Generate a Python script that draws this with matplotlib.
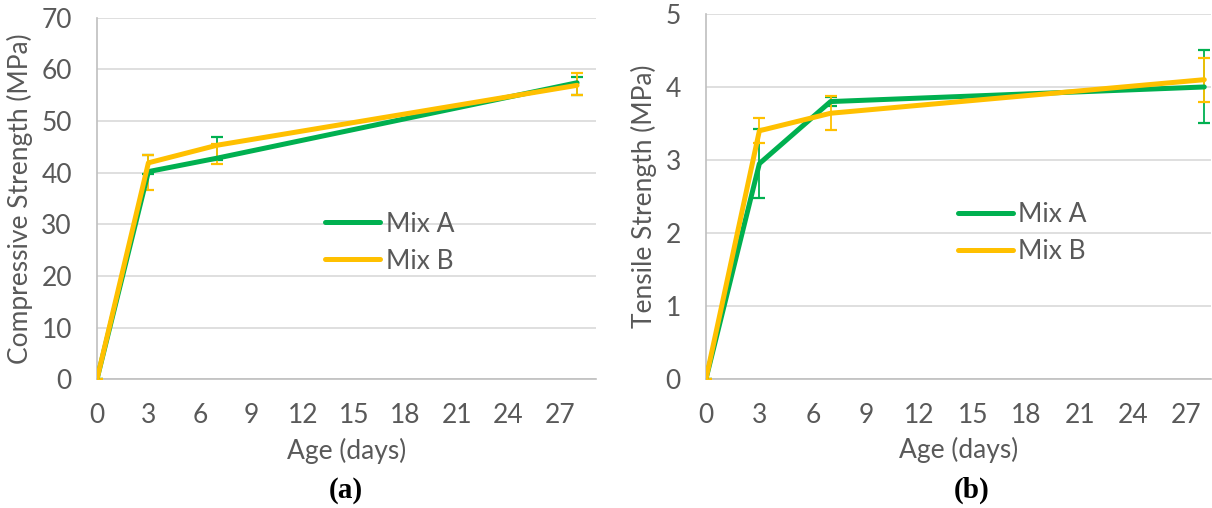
import matplotlib.pyplot as plt
import numpy as np

plt.rcParams["font.family"] = ["Lato", "DejaVu Sans"]

# age of specimens (days)
age = [0, 3, 7, 28]

# (a) compressive strength, MPa
comp_a = [0, 40.2, 42.8, 57.4]
comp_a_lo = [0, 0.4, 0.3, 2.3]
comp_a_hi = [0, 3.3, 4.1, 1.2]
comp_b = [0, 41.9, 45.3, 56.9]
comp_b_lo = [0, 5.2, 3.6, 1.9]
comp_b_hi = [0, 1.6, 0.3, 2.4]

# (b) tensile strength, MPa
tens_a = [0, 2.95, 3.8, 4.0]
tens_a_err = [0, 0.47, 0.06, 0.5]
tens_b = [0, 3.4, 3.64, 4.1]
tens_b_err = [0, 0.17, 0.23, 0.3]

xticks = [0, 3, 6, 9, 12, 15, 18, 21, 24, 27]

GREEN = "#00B050"
YELLOW = "#FFC000"
TXT = "#595959"
FS = 19

fig = plt.figure(figsize=(12.12, 5.08), dpi=100)
ax1 = fig.add_axes([0.0800, 0.2533, 0.4117, 0.712])
ax2 = fig.add_axes([0.5825, 0.2540, 0.4170, 0.7185])


def draw(ax, ya, ea, yb, eb, ylim, ystep, xmax, ylabel, leg_xy):
    for y, e, c, lab in [(ya, ea, GREEN, "Mix A"), (yb, eb, YELLOW, "Mix B")]:
        ax.errorbar(age, y, yerr=e, color=c, ecolor=c, elinewidth=1.3,
                    capsize=4.3, capthick=1.6, linewidth=3.6, label=lab,
                    solid_capstyle="round", zorder=3)
    ax.set_xlim(0, xmax)
    ax.set_ylim(0, ylim)
    ax.set_xticks(xticks)
    ax.set_yticks(np.arange(0, ylim + 0.01, ystep))
    ax.grid(axis="y", color="#D9D9D9", linewidth=1.2)
    ax.set_axisbelow(True)
    for s in ["top", "right"]:
        ax.spines[s].set_visible(False)
    for s in ["left", "bottom"]:
        ax.spines[s].set_color("#BFBFBF")
        ax.spines[s].set_linewidth(1.2)
    ax.tick_params(length=0, labelsize=FS, labelcolor=TXT)
    ax.tick_params(axis="y", pad=18)
    ax.tick_params(axis="x", pad=17)
    ax.set_xlabel("Age (days)", fontsize=FS, color=TXT, labelpad=7)
    ax.set_ylabel(ylabel, fontsize=FS, color=TXT, labelpad=6)
    handles, labels = ax.get_legend_handles_labels()
    handles = [h[0] for h in handles]
    ax.legend(handles, labels, loc="center left", bbox_to_anchor=leg_xy,
              frameon=False, fontsize=FS, labelcolor=TXT,
              borderaxespad=0, borderpad=0,
              handlelength=2.1, handletextpad=0.2, labelspacing=0.45)


draw(ax1, comp_a, [comp_a_lo, comp_a_hi], comp_b, [comp_b_lo, comp_b_hi],
     70, 10, 29.1, "Compressive Strength (MPa)", (0.457, 0.378))
draw(ax2, tens_a, tens_a_err, tens_b, tens_b_err,
     5, 1, 28.4, "Tensile Strength (MPa)", (0.498, 0.399))

fig.text(0.2855, 0.035, "(a)", ha="center", va="center", fontsize=21,
         fontweight="bold", family="Liberation Serif")
fig.text(0.802, 0.035, "(b)", ha="center", va="center", fontsize=21,
         fontweight="bold", family="Liberation Serif")

fig.savefig("out.png", dpi=100)
